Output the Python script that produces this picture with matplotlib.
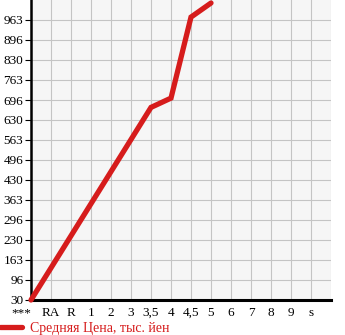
import matplotlib
matplotlib.use("Agg")
import matplotlib.pyplot as plt

plt.rcParams["font.family"] = ["Liberation Serif", "DejaVu Serif"]

# categories on the x axis (engine sizes etc.)
categories = ["***", "RA", "R", "1", "2", "3", "3,5", "4", "4,5", "5", "6", "7", "8", "9", "s"]
# price points: category -> value
point_cats = ["***", "3,5", "4", "4,5", "5"]
point_vals = [30, 672, 703, 973, 1020]
ytick_vals = [30 + k * 200 / 3 for k in range(15)]
ytick_labels = ["30", "96", "163", "230", "296", "363", "430", "496", "563", "630",
                "696", "763", "830", "896", "963"]
legend_label = "Средняя Цена, тыс. йен"

red = "#d61c1c"

fig = plt.figure(figsize=(3.45, 3.35), dpi=100)
ax = fig.add_axes([31 / 345, 35 / 335, 300 / 345, 300 / 335])
ax.set_facecolor("#f6f6f6")

xs = [categories.index(c) for c in point_cats]
line, = ax.plot(xs, point_vals, color=red, lw=3.8, solid_capstyle="round",
                solid_joinstyle="miter", clip_on=False, zorder=5)

ax.set_xlim(0, 15)
ax.set_ylim(30, 1030)
ax.set_xticks(range(16))
ax.set_xticklabels(categories + [""])
ax.set_yticks(ytick_vals)
ax.set_yticklabels(ytick_labels)
ax.grid(True, color="#c4c4c4", lw=0.8)
ax.set_axisbelow(True)

for s in ["top", "right"]:
    ax.spines[s].set_visible(False)
ax.spines["left"].set_linewidth(1.8)
ax.spines["bottom"].set_linewidth(2.2)
ax.tick_params(axis="y", length=4, width=0.8, pad=1.5, labelsize=9.5)
ax.tick_params(axis="x", length=0, pad=5, labelsize=9.5)
ax.get_xticklabels()[0].set_horizontalalignment("right")

fig.legend(handles=[line], labels=[legend_label], loc="lower left",
           bbox_to_anchor=(0, 0), bbox_transform=fig.transFigure,
           frameon=False, borderpad=0, borderaxespad=0, fontsize=10,
           handlelength=1.6, handletextpad=0.55, labelcolor=red)

fig.savefig("out.png", dpi=100)
